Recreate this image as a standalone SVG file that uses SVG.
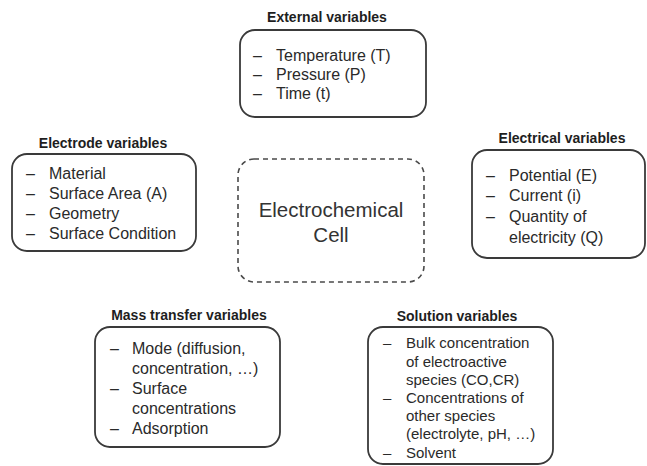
<svg xmlns="http://www.w3.org/2000/svg" width="647" height="466" viewBox="0 0 647 466">
  <style>
    text { font-family: "Liberation Sans", Arial, sans-serif; fill: #2a2a2a; }
    .title { font-size: 14px; font-weight: bold; text-anchor: middle; fill: #1e1e1e; }
    .item { font-size: 16px; }
    .small { font-size: 15px; }
    .box { fill: #ffffff; stroke: #3a3a3a; stroke-width: 1.8; }
    .cell { fill: #ffffff; stroke: #4a4a4a; stroke-width: 1.6; stroke-dasharray: 5 4; }
    .cellText { font-size: 20.5px; text-anchor: middle; fill: #333333; }
  </style>
  <rect width="647" height="466" fill="#ffffff"/>

  <!-- External variables -->
  <g id="external">
    <text class="title" x="327" y="22">External variables</text>
    <rect class="box" x="240" y="30" width="186" height="87" rx="15"/>
    <text class="item" x="253" y="61">–</text><text class="item" x="276" y="61">Temperature (T)</text>
    <text class="item" x="253" y="80">–</text><text class="item" x="276" y="80">Pressure (P)</text>
    <text class="item" x="253" y="99">–</text><text class="item" x="276" y="99">Time (t)</text>
  </g>

  <!-- Electrode variables -->
  <g id="electrode">
    <text class="title" x="103" y="148">Electrode variables</text>
    <rect class="box" x="12" y="154" width="184" height="97" rx="15"/>
    <text class="item" x="26" y="179">–</text><text class="item" x="49" y="179">Material</text>
    <text class="item" x="26" y="199">–</text><text class="item" x="49" y="199">Surface Area (A)</text>
    <text class="item" x="26" y="219">–</text><text class="item" x="49" y="219">Geometry</text>
    <text class="item" x="26" y="239">–</text><text class="item" x="49" y="239">Surface Condition</text>
  </g>

  <!-- Electrical variables -->
  <g id="electrical">
    <text class="title" x="562" y="143">Electrical variables</text>
    <rect class="box" x="472" y="150" width="173" height="108" rx="15"/>
    <text class="item" x="486" y="181">–</text><text class="item" x="509" y="181">Potential (E)</text>
    <text class="item" x="486" y="201">–</text><text class="item" x="509" y="201">Current (i)</text>
    <text class="item" x="486" y="222">–</text><text class="item" x="509" y="222">Quantity of</text>
    <text class="item" x="509" y="243">electricity (Q)</text>
  </g>

  <!-- Electrochemical cell -->
  <g id="cell">
    <rect class="cell" x="238" y="159" width="186" height="123" rx="16"/>
    <text class="cellText" x="331" y="217">Electrochemical</text>
    <text class="cellText" x="331" y="242">Cell</text>
  </g>

  <!-- Mass transfer variables -->
  <g id="mass-transfer">
    <text class="title" x="189" y="320">Mass transfer variables</text>
    <rect class="box" x="95" y="327" width="185" height="120" rx="15"/>
    <text class="item" x="110" y="354">–</text><text class="item" x="132" y="354">Mode (diffusion,</text>
    <text class="item" x="132" y="374">concentration, …)</text>
    <text class="item" x="110" y="394">–</text><text class="item" x="132" y="394">Surface</text>
    <text class="item" x="132" y="414">concentrations</text>
    <text class="item" x="110" y="434">–</text><text class="item" x="132" y="434">Adsorption</text>
  </g>

  <!-- Solution variables -->
  <g id="solution">
    <text class="title" x="457" y="321">Solution variables</text>
    <rect class="box" x="368" y="327" width="185" height="137" rx="15"/>
    <text class="small" x="383" y="348">–</text><text class="small" x="406" y="348">Bulk concentration</text>
    <text class="small" x="406" y="367">of electroactive</text>
    <text class="small" x="406" y="385">species (CO,CR)</text>
    <text class="small" x="383" y="403">–</text><text class="small" x="406" y="403">Concentrations of</text>
    <text class="small" x="406" y="421">other species</text>
    <text class="small" x="406" y="439">(electrolyte, pH, …)</text>
    <text class="small" x="383" y="458">–</text><text class="small" x="406" y="458">Solvent</text>
  </g>
</svg>
